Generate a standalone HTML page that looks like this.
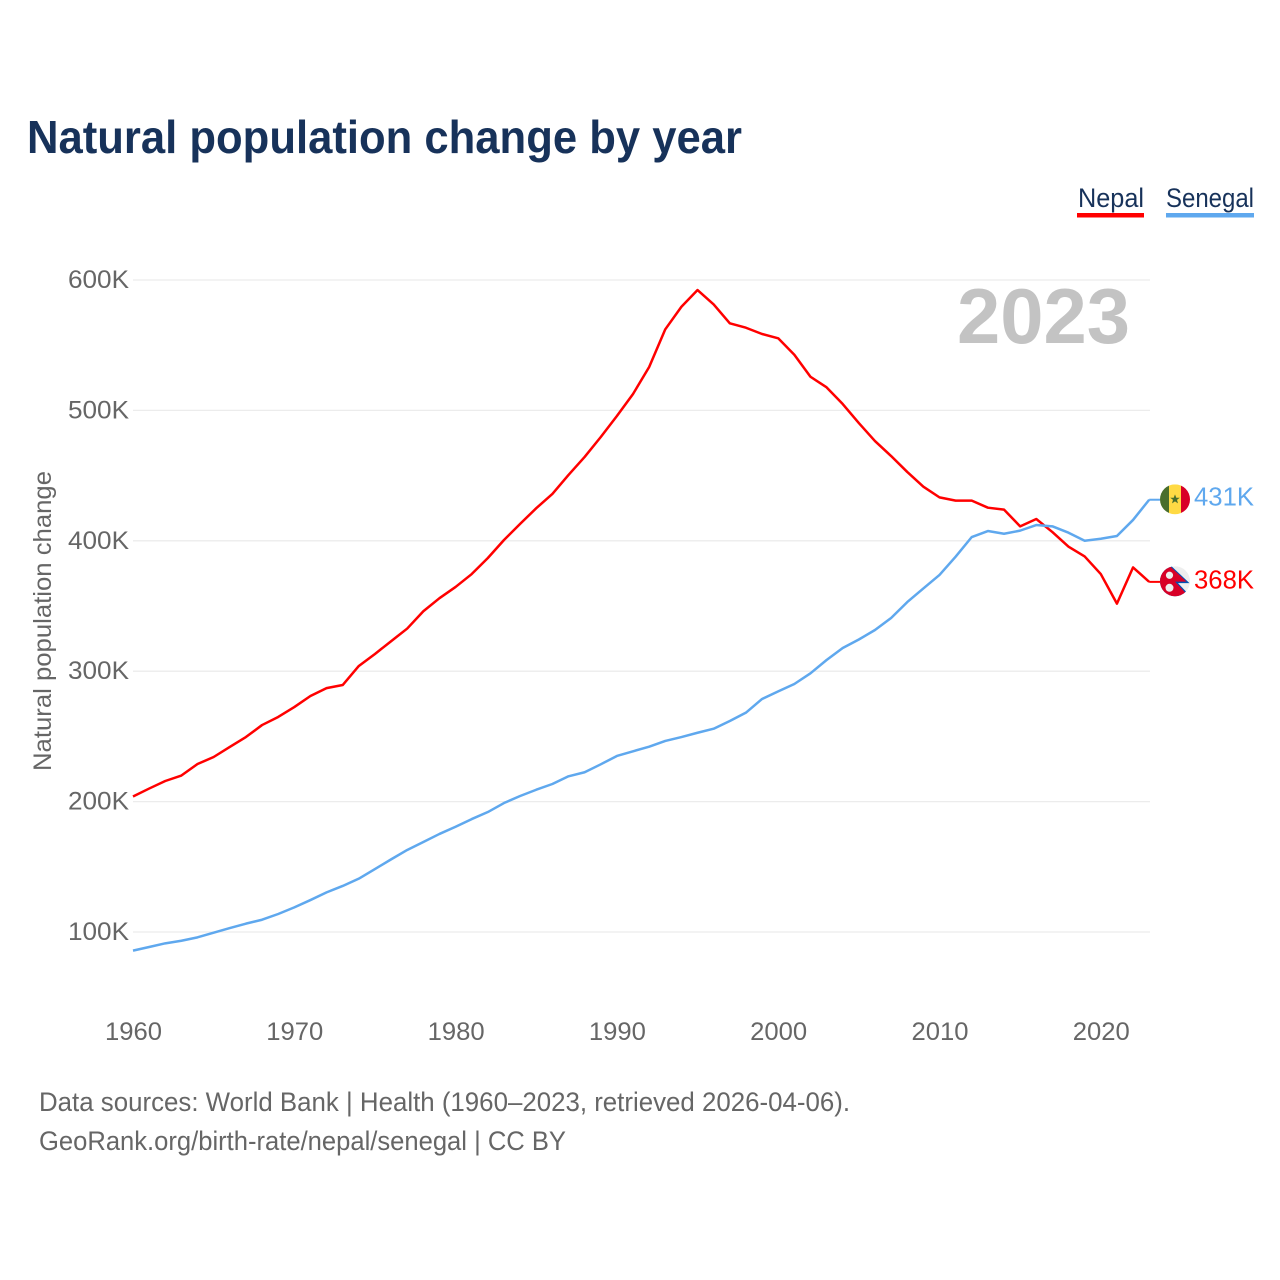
<!DOCTYPE html>
<html lang="en">
<head>
<meta charset="utf-8">
<title>Natural population change by year</title>
<style>
html,body{margin:0;padding:0;background:#fff;width:1280px;height:1280px;overflow:hidden}
svg{display:block}
text{font-family:"Liberation Sans",sans-serif}
</style>
</head>
<body>
<svg id="chart" width="1280" height="1280" viewBox="0 0 1280 1280" xmlns="http://www.w3.org/2000/svg">
  <defs>
    <clipPath id="flag-clip-sn"><circle cx="0" cy="0" r="15"></circle></clipPath>
    <clipPath id="flag-clip-np"><circle cx="0" cy="0" r="15"></circle></clipPath>
  </defs>
  <rect x="0" y="0" width="1280" height="1280" fill="#fff"></rect>
  <text x="27" y="153" font-size="46" font-weight="700" fill="#17325a" textLength="715" lengthAdjust="spacingAndGlyphs">Natural population change by year</text>

  <g>
    <text x="1078" y="207" font-size="27" fill="#17325a" textLength="66" lengthAdjust="spacingAndGlyphs">Nepal</text>
    <rect x="1077" y="213" width="67" height="4.5" fill="#ff0000"></rect>
  </g>
  <g>
    <text x="1166" y="207" font-size="27" fill="#17325a" textLength="88" lengthAdjust="spacingAndGlyphs">Senegal</text>
    <rect x="1166" y="213" width="88" height="4.5" fill="#5fa8ee"></rect>
  </g>

  <g id="grid"></g>
  <g id="y-axis"></g>
  <g id="x-axis"></g>

  <text transform="translate(51,771) rotate(-90)" font-size="25" fill="#666" textLength="300" lengthAdjust="spacingAndGlyphs">Natural population change</text>
  <text x="957" y="343" font-size="78" font-weight="700" fill="#c3c3c3" textLength="173" lengthAdjust="spacingAndGlyphs">2023</text>

  <g id="series"></g>
  <g id="end-markers"></g>

  <text x="39" y="1111" font-size="26.5" fill="#666" textLength="811" lengthAdjust="spacingAndGlyphs">Data sources: World Bank | Health (1960–2023, retrieved 2026-04-06).</text>
  <text x="39" y="1150" font-size="26.5" fill="#666" textLength="527" lengthAdjust="spacingAndGlyphs">GeoRank.org/birth-rate/nepal/senegal | CC BY</text>
</svg>
<script>
const firstYear = 1960;
const yTickValues = [100, 200, 300, 400, 500, 600];
const yTickLabels = ["100K", "200K", "300K", "400K", "500K", "600K"];
const xTickValues = [1960, 1970, 1980, 1990, 2000, 2010, 2020];
const xTickLabels = ["1960", "1970", "1980", "1990", "2000", "2010", "2020"];
const nepalValues = [
  203.9, 210, 215.8, 220, 228.8, 234.2, 241.9, 249.5, 258.7, 264.9,
  272.5, 281, 287, 289.4, 304, 313.2, 323, 332.7, 346, 356,
  364.6, 374.5, 386.8, 400.6, 413, 425, 435.9, 450.5, 464.3, 479.6,
  495.7, 512.6, 533.3, 562.2, 579.5, 592.3, 581.3, 566.8, 563.4, 558.6,
  555.3, 542.7, 525.8, 517.7, 504.9, 490.3, 476.5, 465, 452.8, 441.5,
  433.3, 430.8, 430.8, 425.4, 423.9, 411.1, 416.7, 406.7, 395.5, 388,
  374.5, 351.8, 379.6, 368.5
];
const senegalValues = [
  85.7, 88.5, 91.3, 93.3, 95.9, 99.5, 103, 106.4, 109.4, 113.8,
  118.9, 124.5, 130.4, 135.3, 140.9, 148.3, 155.7, 162.9, 169, 175.2,
  180.7, 186.6, 192, 198.9, 204.3, 209.1, 213.5, 219.4, 222.5, 228.6,
  235, 238.6, 242.1, 246.5, 249.5, 252.8, 255.9, 261.8, 268.2, 278.7,
  284.5, 290.2, 298.4, 308.6, 317.8, 324.3, 331.6, 340.8, 353, 363.5,
  373.8, 387.8, 402.9, 407.5, 405.4, 407.8, 412.1, 411.1, 406.2, 400,
  401.6, 403.7, 416, 431.5
];
const nepalEndLabel = "368K";
const senegalEndLabel = "431K";

const SVGNS = "http://www.w3.org/2000/svg";
function xScale(year) { return 133 + (year - 1960) * 16.13; }
function yScale(v) { return 932 - (v - 100) * 1.304; }
function make(tag, attrs, parent) {
  const el = document.createElementNS(SVGNS, tag);
  for (const k in attrs) el.setAttribute(k, attrs[k]);
  parent.appendChild(el);
  return el;
}

const gridG = document.getElementById("grid");
const yAxisG = document.getElementById("y-axis");
const xAxisG = document.getElementById("x-axis");
const seriesG = document.getElementById("series");
const endG = document.getElementById("end-markers");

yTickValues.forEach(function (v, i) {
  const line = make("line", { x1: 133, x2: 1150, y1: yScale(v), y2: yScale(v), stroke: "#ececec", "stroke-width": 1.3 }, gridG);
  
  
  const t = make("text", { x: 129, y: yScale(v) + 8, "font-size": 25, fill: "#666", "text-anchor": "end", textLength: 61, lengthAdjust: "spacingAndGlyphs" }, yAxisG);
  
  
  t.textContent = yTickLabels[i];
});

xTickValues.forEach(function (yr, i) {
  const t = make("text", { x: xScale(yr) + 0.5, y: 1040, "font-size": 25, fill: "#666", "text-anchor": "middle", textLength: 57, lengthAdjust: "spacingAndGlyphs" }, xAxisG);
  
  
  t.textContent = xTickLabels[i];
});

function linePoints(values) {
  return values.map(function (v, i) {
    return xScale(firstYear + i).toFixed(2) + "," + yScale(v).toFixed(2);
  }).join(" ");
}

const nepalLine = make("polyline", { points: linePoints(nepalValues), fill: "none", stroke: "#ff0000", "stroke-width": 2.5, "stroke-linejoin": "round" }, seriesG);


const senegalLine = make("polyline", { points: linePoints(senegalValues), fill: "none", stroke: "#5fa8ee", "stroke-width": 2.5, "stroke-linejoin": "round" }, seriesG);



const lastYear = firstYear + nepalValues.length - 1;
const flagX = 1175;

/* Senegal end marker */
const snY = yScale(senegalValues[senegalValues.length - 1]);
const snConn = make("line", { x1: xScale(lastYear), x2: 1160, y1: snY, y2: snY, stroke: "#5fa8ee", "stroke-width": 2 }, endG);


const snFlag = make("g", { transform: "translate(" + flagX + "," + (snY - 0.4) + ")", "clip-path": "url(#flag-clip-sn)" }, endG);


make("rect", { x: -15, y: -15, width: 9, height: 30, fill: "#496e2d" }, snFlag);
make("rect", { x: -6, y: -15, width: 12, height: 30, fill: "#ffda44" }, snFlag);
make("rect", { x: 6, y: -15, width: 9, height: 30, fill: "#d80027" }, snFlag);
make("polygon", { points: "0,-5 1.3,-1.6 4.8,-1.6 2,0.6 3,4 0,2 -3,4 -2,0.6 -4.8,-1.6 -1.3,-1.6", fill: "#496e2d" }, snFlag);
const snLabel = make("text", { x: 1254, y: snY + 6, "font-size": 26, fill: "#5fa8ee", "text-anchor": "end", textLength: 60, lengthAdjust: "spacingAndGlyphs" }, endG);


snLabel.textContent = senegalEndLabel;

/* Nepal end marker */
const npY = yScale(nepalValues[nepalValues.length - 1]);
const npConn = make("line", { x1: xScale(lastYear), x2: 1160, y1: npY, y2: npY, stroke: "#ff0000", "stroke-width": 2 }, endG);


const npFlag = make("g", { transform: "translate(" + flagX + "," + (npY - 0.6) + ")", "clip-path": "url(#flag-clip-np)" }, endG);


make("rect", { x: -15, y: -15, width: 30, height: 30, fill: "#eeeeee" }, npFlag);
make("polygon", { points: "-15,-15 -3.5,-15 14.5,1.9 3,1.9 15,14.5 15,16 -15,16", fill: "#0052b4" }, npFlag);
make("polygon", { points: "-15,-15 -5,-15 11.5,0.4 0,0.4 12.8,14 12,16 -15,16", fill: "#d80027" }, npFlag);
make("circle", { cx: -5.5, cy: -6, r: 3.6, fill: "#eeeeee" }, npFlag);
make("circle", { cx: -5.5, cy: 6.5, r: 4, fill: "#eeeeee" }, npFlag);
const npLabel = make("text", { x: 1254, y: npY + 6.5, "font-size": 26, fill: "#ff0000", "text-anchor": "end", textLength: 60, lengthAdjust: "spacingAndGlyphs" }, endG);


npLabel.textContent = nepalEndLabel;
</script>
</body>
</html>
